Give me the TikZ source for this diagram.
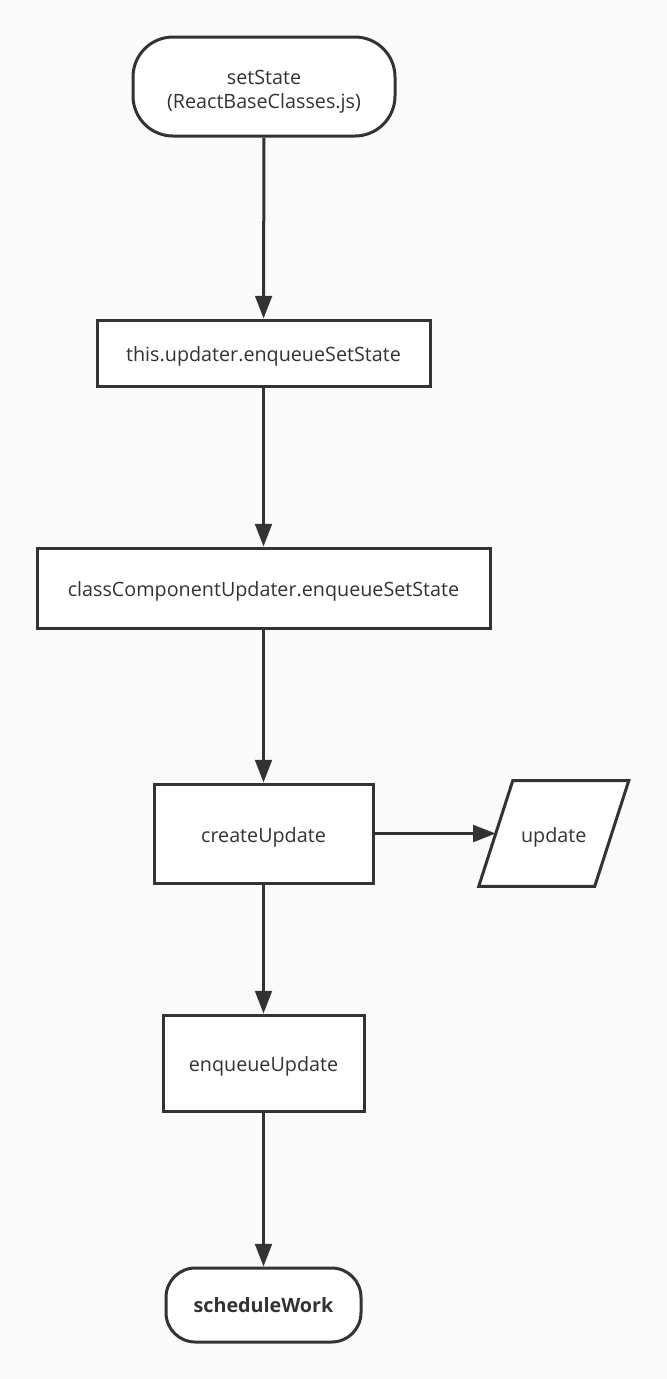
\documentclass[tikz,border=0pt]{standalone}
\usepackage{fontspec}
\setmainfont{Open Sans}
\usetikzlibrary{arrows.meta}
\definecolor{ink}{HTML}{333333}
\definecolor{paper}{HTML}{FAFAFA}
\begin{document}
\begin{tikzpicture}[x=0.75pt,y=-0.75pt,
  lbl/.style={font=\fontsize{14.8}{18}\selectfont, text=ink,
    text height=12.8pt, text depth=0pt},
  box/.style={lbl, draw=ink, line width=2.25pt, fill=white, inner sep=0pt,
    align=center},
  flow/.style={draw=ink, line width=2.25pt,
    -{Triangle[length=17pt,width=12.5pt]}}]
  \fill[paper] (0,0) rectangle (667,1379);
  \useasboundingbox (0,0) rectangle (667,1379);

  \node[box, rounded corners=30pt, minimum width=196.5pt, minimum height=74.25pt,
    text height=32.25pt]
    (set) at (264,86.5) {setState\\(ReactBaseClasses.js)};
  \node[box, minimum width=249.75pt, minimum height=49.5pt]
    (upd) at (263.5,353) {this.updater.enqueueSetState};
  \node[box, minimum width=339.75pt, minimum height=60pt]
    (ccu) at (263.5,588) {classComponentUpdater.enqueueSetState};
  \node[box, minimum width=164.25pt, minimum height=74.25pt]
    (cre) at (263.5,833.5) {createUpdate};
  \node[box, minimum width=150.75pt, minimum height=72pt]
    (enq) at (263.5,1063) {enqueueUpdate};
  \node[box, rounded corners=22pt, minimum width=146.25pt, minimum height=55.5pt,
    font=\fontsize{14.8}{18}\selectfont\bfseries, text height=11.5pt]
    (sch) at (263.5,1305) {scheduleWork};

  % data parallelogram
  \node[inner sep=0pt, minimum width=86.6pt, minimum height=78.75pt] (out) at (553.75,833.5) {};
  \filldraw[fill=white, draw=ink, line width=2.25pt, line join=miter]
    ([xshift=12.75pt]out.north west) -- ([xshift=12.75pt]out.north east)
    -- ([xshift=-12.75pt]out.south east) -- ([xshift=-12.75pt]out.south west) -- cycle;
  \node[lbl, inner sep=0pt] (outtext) at (out.center) {update};

  \draw[flow] (set) -- (upd);
  \draw[flow] (upd) -- (ccu);
  \draw[flow] (ccu) -- (cre);
  \draw[flow] (cre) -- (enq);
  \draw[flow] (enq) -- (sch);
  \draw[flow] (cre.east) -- (out.west);
\end{tikzpicture}
\end{document}
